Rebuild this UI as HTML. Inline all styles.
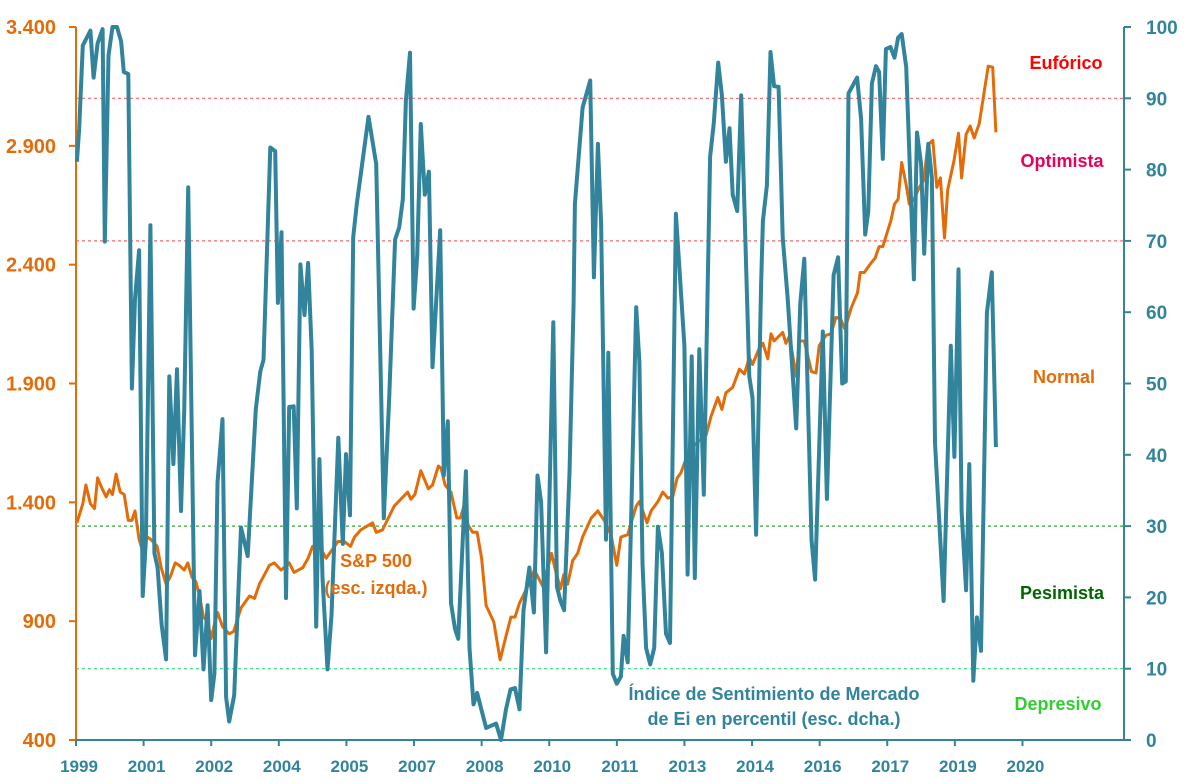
<!DOCTYPE html>
<html><head><meta charset="utf-8">
<style>
html,body{margin:0;padding:0;background:#fff;}
svg{display:block;font-family:"Liberation Sans",sans-serif;font-weight:bold;}
</style></head>
<body>
<svg id="chart" width="1200" height="784" viewBox="0 0 1200 784" xmlns="http://www.w3.org/2000/svg">
<g id="grid"></g>
<g id="axes"></g>
<g id="series"></g>
<g id="labels">
  <text x="1066" y="69" fill="#ff0000" font-size="18" text-anchor="middle">Eufórico</text>
  <text x="1062" y="167" fill="#e8005a" font-size="18" text-anchor="middle">Optimista</text>
  <text x="1064" y="383" fill="#e36c09" font-size="18" text-anchor="middle">Normal</text>
  <text x="1062" y="599" fill="#006600" font-size="18" text-anchor="middle">Pesimista</text>
  <text x="1058" y="710" fill="#33cc33" font-size="18" text-anchor="middle">Depresivo</text>
  <text x="376" y="567" fill="#e36c09" font-size="18" text-anchor="middle">S&amp;P 500</text>
  <text x="376" y="594" fill="#e36c09" font-size="18" text-anchor="middle">(esc. izqda.)</text>
  <text x="774" y="700" fill="#31849b" font-size="18" text-anchor="middle">Índice de Sentimiento de Mercado</text>
  <text x="774" y="725" fill="#31849b" font-size="18" text-anchor="middle">de Ei en percentil (esc. dcha.)</text>
</g>
</svg>
<script>
const leftTicks = [400, 900, 1400, 1900, 2400, 2900, 3400];
const leftTickLabels = ["400", "900", "1.400", "1.900", "2.400", "2.900", "3.400"];
const rightTicks = [0, 10, 20, 30, 40, 50, 60, 70, 80, 90, 100];
const xTicks = [1999, 2000.5, 2002, 2003.5, 2005, 2006.5, 2008, 2009.5, 2011, 2012.5, 2014, 2015.5, 2017, 2018.5, 2020];
const xTickLabels = ["1999","2001","2002","2004","2005","2007","2008","2010","2011","2013","2014","2016","2017","2019","2020"];
const zoneLevels = [90, 70, 30, 10];
const zoneColors = ["#ff6666", "#ff6666", "#33aa33", "#33dd77"];
const sentT = [1999.02,1999.07,1999.15,1999.32,1999.39,1999.48,1999.59,1999.64,1999.72,1999.81,1999.91,2000.00,2000.06,2000.16,2000.24,2000.31,2000.40,2000.48,2000.55,2000.65,2000.74,2000.81,2000.90,2001.00,2001.07,2001.16,2001.24,2001.33,2001.40,2001.49,2001.64,2001.74,2001.83,2001.92,2002.00,2002.07,2002.14,2002.25,2002.33,2002.40,2002.51,2002.66,2002.81,2002.99,2003.09,2003.16,2003.31,2003.42,2003.48,2003.56,2003.66,2003.73,2003.83,2003.90,2003.98,2004.07,2004.15,2004.23,2004.33,2004.40,2004.47,2004.58,2004.67,2004.82,2004.92,2004.99,2005.08,2005.15,2005.23,2005.49,2005.66,2005.83,2005.95,2006.08,2006.17,2006.25,2006.32,2006.41,2006.49,2006.57,2006.65,2006.74,2006.83,2006.91,2007.08,2007.16,2007.25,2007.32,2007.41,2007.48,2007.65,2007.73,2007.82,2007.90,2008.10,2008.32,2008.43,2008.54,2008.64,2008.74,2008.84,2008.93,2009.06,2009.16,2009.24,2009.32,2009.43,2009.59,2009.67,2009.75,2009.83,2009.95,2010.04,2010.07,2010.24,2010.41,2010.49,2010.58,2010.65,2010.76,2010.81,2010.91,2011.00,2011.09,2011.15,2011.24,2011.43,2011.50,2011.57,2011.65,2011.74,2011.83,2011.91,2012.00,2012.09,2012.18,2012.31,2012.50,2012.57,2012.66,2012.73,2012.83,2012.93,2013.07,2013.15,2013.25,2013.33,2013.42,2013.50,2013.57,2013.67,2013.76,2013.94,2014.01,2014.09,2014.20,2014.24,2014.33,2014.41,2014.49,2014.59,2014.68,2014.79,2014.98,2015.07,2015.16,2015.32,2015.40,2015.57,2015.66,2015.81,2015.91,2016.00,2016.08,2016.14,2016.33,2016.42,2016.51,2016.58,2016.66,2016.75,2016.82,2016.90,2016.97,2017.07,2017.16,2017.24,2017.32,2017.42,2017.59,2017.66,2017.75,2017.82,2017.91,2017.99,2018.06,2018.25,2018.41,2018.49,2018.58,2018.65,2018.75,2018.82,2018.91,2018.99,2019.08,2019.21,2019.32,2019.41];
const sentV = [81.1,85.8,97.4,99.5,92.9,97.7,99.7,69.9,96.0,100,100,98,93.7,93.4,49.3,61.9,68.7,20.2,28.1,72.2,26.2,24.2,16.2,11.3,51,38.7,52,32.1,46,77.5,11.9,20.9,9.9,18.9,5.6,9.3,36.1,45,6,2.6,6.3,29.8,25.8,46.4,51.7,53.3,83.1,82.6,61.3,71.2,19.9,46.7,46.8,32.5,66.7,59.6,66.9,54.6,15.9,39.4,22.8,9.9,17.5,42.4,27.5,40.1,31.5,70.5,75.2,87.4,80.8,31.1,48,70.2,71.9,75.8,89.7,96.4,60.5,67.9,86.4,76.5,79.7,52.3,71.5,37.1,44.7,19.2,15.6,14.2,37.7,12.9,5,6.6,1.7,2.3,0,4.3,7.1,7.3,4.3,18.2,24.2,17.9,37.1,33.4,12.3,58.6,21.5,19.5,18.2,37.4,61.3,75.2,88.7,92.5,64.9,83.6,72.5,28.1,54.3,9.3,7.9,8.9,14.6,10.9,60.7,53,24.8,12.9,10.6,12.9,29.9,26.2,14.9,13.6,73.8,55.3,23.2,53.8,22.7,54.8,34.4,81.8,86.4,95,90.4,81.1,85.8,76.5,74.2,90.4,51,48,28.8,63.9,72.8,77.8,96.5,91.7,91.6,70.5,61.9,43.7,61.3,67.5,28.1,22.5,57.3,33.8,65.2,67.7,50,50.3,90.7,92.9,87.1,70.9,74.2,92.1,94.5,93.7,81.5,96.9,97.2,95.7,98.5,99,94.4,64.6,85.2,80.8,68.2,83.6,78.8,41.7,19.5,55.3,39.7,66,32.1,21,38.7,8.3,17.2,12.5,59.9,65.6,41.1];
const spxT = [1999.02,1999.15,1999.22,1999.32,1999.41,1999.48,1999.59,1999.67,1999.74,1999.81,1999.89,1999.98,2000.07,2000.16,2000.24,2000.31,2000.40,2000.48,2000.58,2000.66,2000.80,2000.89,2001.00,2001.09,2001.20,2001.29,2001.40,2001.48,2001.57,2001.66,2001.74,2001.83,2001.92,2002.00,2002.07,2002.14,2002.25,2002.40,2002.50,2002.66,2002.85,2002.96,2003.07,2003.18,2003.29,2003.40,2003.55,2003.73,2003.84,2004.03,2004.15,2004.25,2004.40,2004.55,2004.70,2004.81,2004.95,2005.09,2005.18,2005.32,2005.58,2005.66,2005.80,2006.06,2006.36,2006.43,2006.52,2006.65,2006.82,2006.91,2007.04,2007.10,2007.19,2007.32,2007.45,2007.53,2007.62,2007.70,2007.80,2007.90,2008.00,2008.10,2008.27,2008.41,2008.54,2008.65,2008.74,2008.84,2009.02,2009.17,2009.36,2009.55,2009.65,2009.75,2009.82,2009.91,2010.02,2010.13,2010.24,2010.43,2010.58,2010.72,2010.87,2011.00,2011.09,2011.24,2011.43,2011.50,2011.67,2011.76,2011.91,2012.02,2012.13,2012.24,2012.34,2012.42,2012.57,2012.72,2012.98,2013.09,2013.24,2013.33,2013.42,2013.57,2013.72,2013.83,2013.94,2014.01,2014.16,2014.24,2014.35,2014.42,2014.49,2014.68,2014.75,2014.83,2014.98,2015.05,2015.16,2015.32,2015.42,2015.49,2015.64,2015.75,2015.86,2015.96,2016.06,2016.20,2016.34,2016.40,2016.49,2016.64,2016.73,2016.82,2016.90,2017.08,2017.16,2017.24,2017.32,2017.42,2017.49,2017.59,2017.71,2017.81,2017.90,2018.01,2018.10,2018.18,2018.27,2018.34,2018.48,2018.58,2018.65,2018.75,2018.84,2018.93,2019.04,2019.24,2019.34,2019.41];
const spxV = [1314,1394,1473,1394,1374,1503,1453,1423,1453,1433,1519,1443,1433,1324,1324,1364,1244,1195,1254,1244,1215,1125,1056,1086,1145,1135,1115,1145,1086,1066,1006,917,897,827,887,937,877,847,857,956,1006,996,1056,1095,1135,1145,1115,1145,1105,1125,1165,1215,1215,1165,1205,1235,1235,1215,1254,1284,1314,1274,1284,1384,1443,1413,1433,1533,1457,1473,1553,1543,1473,1443,1334,1334,1394,1304,1274,1274,1165,966,897,738,837,917,917,976,1046,1115,1046,1185,1105,1036,1095,1056,1155,1185,1254,1334,1364,1324,1264,1135,1254,1264,1384,1403,1314,1364,1403,1443,1418,1423,1503,1523,1602,1642,1682,1761,1841,1791,1861,1884,1960,1940,2009,1980,2049,2069,2004,2109,2079,2115,2069,2099,1930,2079,2079,1950,1944,2059,2103,2109,2178,2174,2129,2218,2282,2367,2367,2407,2427,2476,2476,2586,2655,2675,2830,2735,2655,2675,2725,2755,2904,2923,2725,2765,2512,2715,2838,2953,2765,2949,2983,2933,2993,3235,3231,2957];

const X0 = 76, Y0 = 740, YTOP = 27, XR = 1124, PXY = 45.07;
const xs = t => X0 + (t - 1999) * PXY;
const yL = v => Y0 - (v - 400) / 3000 * (Y0 - YTOP);
const yR = v => Y0 - v / 100 * (Y0 - YTOP);
const NS = "http://www.w3.org/2000/svg";
function mk(tag, parent, attrs) {
  const e = document.createElementNS(NS, tag);
  for (const k in attrs) e.setAttribute(k, attrs[k]);
  parent.appendChild(e);
  return e;
}
const grid = document.getElementById('grid');
const axes = document.getElementById('axes');
const series = document.getElementById('series');

zoneLevels.forEach((lv, i) => {
  const l = mk('line', grid, {x1: X0, x2: XR, y1: yR(lv), y2: yR(lv), stroke: zoneColors[i], 'stroke-width': 1.2, 'stroke-dasharray': '3,3'});
  
  
});

let la = mk('line', axes, {x1: X0, x2: X0, y1: YTOP, y2: Y0, stroke: '#e36c09', 'stroke-width': 2});


leftTicks.forEach((v, i) => {
  const y = yL(v);
  const tk = mk('line', axes, {x1: X0 - 7, x2: X0, y1: y, y2: y, stroke: '#e36c09', 'stroke-width': 2});
  
  
  const t = mk('text', axes, {x: 56, y: y + 7, 'text-anchor': 'end', fill: '#e36c09', 'font-size': 20});
  t.textContent = leftTickLabels[i];
  
  
});
let ra = mk('line', axes, {x1: XR, x2: XR, y1: YTOP, y2: Y0, stroke: '#31849b', 'stroke-width': 2});


rightTicks.forEach(v => {
  const y = yR(v);
  const tk = mk('line', axes, {x1: XR, x2: XR + 7, y1: y, y2: y, stroke: '#31849b', 'stroke-width': 2});
  
  
  const t = mk('text', axes, {x: 1146, y: y + 7, 'text-anchor': 'start', fill: '#31849b', 'font-size': 19});
  t.textContent = String(v);
  
  
});
let xa = mk('line', axes, {x1: X0, x2: XR, y1: Y0, y2: Y0, stroke: '#31849b', 'stroke-width': 2});


xTicks.forEach((tv, i) => {
  const x = xs(tv);
  const tk = mk('line', axes, {x1: x, x2: x, y1: Y0, y2: Y0 + 6, stroke: '#31849b', 'stroke-width': 2});
  
  
  const t = mk('text', axes, {x: x + 3, y: 772, 'text-anchor': 'middle', fill: '#31849b', 'font-size': 17});
  t.textContent = xTickLabels[i];
  
  
});

const spPts = spxT.map((t, i) => xs(t).toFixed(1) + ',' + yL(spxV[i]).toFixed(1)).join(' ');
const sp = mk('polyline', series, {points: spPts, fill: 'none', stroke: '#e36c09', 'stroke-width': 3, 'stroke-linejoin': 'round'});


const sePts = sentT.map((t, i) => xs(t).toFixed(1) + ',' + yR(sentV[i]).toFixed(1)).join(' ');
const se = mk('polyline', series, {points: sePts, fill: 'none', stroke: '#31849b', 'stroke-width': 4, 'stroke-linejoin': 'round'});


</script>
</body></html>
